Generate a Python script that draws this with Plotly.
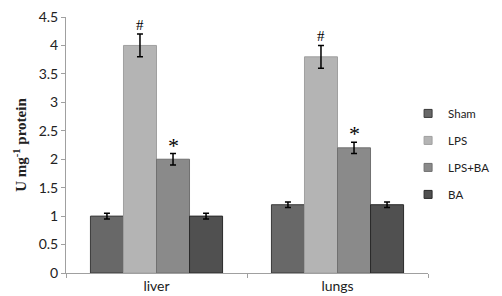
import plotly.graph_objects as go

categories = ["liver", "lungs"]
series = ["Sham", "LPS", "LPS+BA", "BA"]
values = {
    "Sham": [1.0, 1.2],
    "LPS": [4.0, 3.8],
    "LPS+BA": [2.0, 2.2],
    "BA": [1.0, 1.2],
}
errors = {
    "Sham": [0.05, 0.05],
    "LPS": [0.2, 0.2],
    "LPS+BA": [0.1, 0.1],
    "BA": [0.05, 0.05],
}
marks = {"LPS": "#", "LPS+BA": "*"}
colors = {"Sham": "#686868", "LPS": "#b4b4b4", "LPS+BA": "#8a8a8a", "BA": "#505050"}
edges = {"Sham": "#3a3a3a", "LPS": "#a0a0a0", "LPS+BA": "#707070", "BA": "#2a2a2a"}
BARGAP = 0.27

fig = go.Figure()
for i, s in enumerate(series):
    fig.add_trace(go.Bar(
        name=s, x=categories, y=values[s], legendgroup=s, showlegend=False,
        marker=dict(color=colors[s], line=dict(color=edges[s], width=1)),
        error_y=dict(type="data", array=errors[s], color="black", thickness=1.5, width=3),
    ))
# legend entries with small square keys
for s in series:
    fig.add_trace(go.Scatter(
        name=s, x=[None], y=[None], mode="markers", legendgroup=s,
        marker=dict(symbol="square", size=8, color=colors[s],
                    line=dict(color=edges[s], width=1)),
    ))

# significance marks above error bars
n = len(series)
for i, s in enumerate(series):
    if s not in marks:
        continue
    for j, c in enumerate(categories):
        off = (i - (n - 1) / 2) * (1 - BARGAP) / n
        fig.add_annotation(
            x=j + off, y=values[s][j] + errors[s][j], xref="x", yref="y",
            text=marks[s], showarrow=False, yanchor="bottom",
            yshift=-1 if s == "LPS" else -6,
            font=dict(family="Liberation Serif", size=15 if s == "LPS" else 22, color="black"),
        )

fig.update_layout(
    width=502, height=296,
    margin=dict(l=58, r=82, t=9, b=31, autoexpand=False),
    paper_bgcolor="white", plot_bgcolor="white",
    barmode="group", bargap=BARGAP, bargroupgap=0,
    showlegend=True,
    legend=dict(x=0.945, y=0.68, xanchor="left", yanchor="top",
                font=dict(family="Lato", size=11.5, color="#222"),
                tracegroupgap=8, itemwidth=30, bgcolor="rgba(0,0,0,0)"),
    font=dict(family="Lato", color="#222"),
)
fig.update_xaxes(
    showline=True, linecolor="#a0a0a0", linewidth=1,
    ticks="outside", tickson="boundaries", ticklen=4, tickcolor="#a0a0a0",
    tickfont=dict(family="Lato", size=14, color="#222"),
    showgrid=False,
)
fig.update_yaxes(
    range=[0, 4.5], dtick=0.5, ticklabeloverflow="allow",
    showline=True, linecolor="#a0a0a0", linewidth=1,
    ticks="outside", ticklen=4, tickcolor="#a0a0a0",
    tickfont=dict(family="Lato", size=14, color="#222"),
    showgrid=False, zeroline=False,
    title=dict(text="<b>U mg<sup>-1</sup> protein</b>", standoff=8,
               font=dict(family="Liberation Serif", size=15, color="#222")),
)
fig.write_html("out.html")
